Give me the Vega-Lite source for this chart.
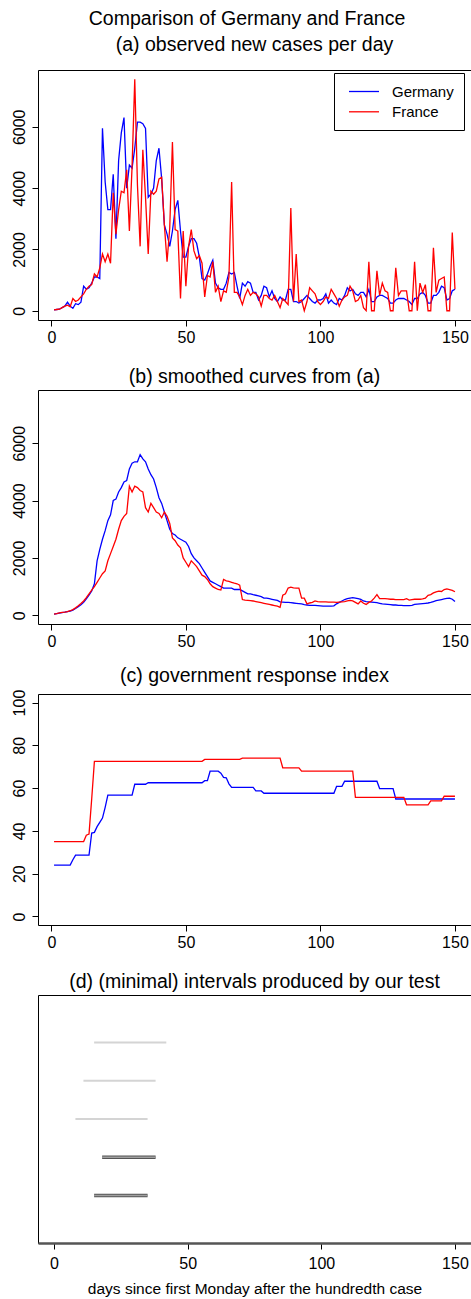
{
  "$schema": "https://vega.github.io/schema/vega-lite/v6.json",
  "description": "Comparison of Germany and France: observed and smoothed new cases, government response index and intervals.",
  "padding": {"left": 10, "top": 8, "right": 0, "bottom": 2},
  "title": {"text": "Comparison of Germany and France", "fontSize": 19.5, "fontWeight": "normal", "color": "black", "anchor": "middle", "offset": -10, "dx": 6, "baseline": "alphabetic"},
  "datasets": {
    "covid": [
      {"day":1,"country":"Germany","cases":30,"smoothed":40,"index":24},
      {"day":2,"country":"Germany","cases":40,"smoothed":60,"index":24},
      {"day":3,"country":"Germany","cases":50,"smoothed":80,"index":24},
      {"day":4,"country":"Germany","cases":100,"smoothed":95,"index":24},
      {"day":5,"country":"Germany","cases":150,"smoothed":110,"index":24},
      {"day":6,"country":"Germany","cases":280,"smoothed":130,"index":24},
      {"day":7,"country":"Germany","cases":150,"smoothed":150,"index":24},
      {"day":8,"country":"Germany","cases":80,"smoothed":180,"index":26.5},
      {"day":9,"country":"Germany","cases":230,"smoothed":240,"index":28.7},
      {"day":10,"country":"Germany","cases":200,"smoothed":300,"index":28.7},
      {"day":11,"country":"Germany","cases":280,"smoothed":370,"index":28.7},
      {"day":12,"country":"Germany","cases":800,"smoothed":450,"index":28.7},
      {"day":13,"country":"Germany","cases":700,"smoothed":570,"index":28.7},
      {"day":14,"country":"Germany","cases":750,"smoothed":700,"index":28.7},
      {"day":15,"country":"Germany","cases":900,"smoothed":850,"index":39},
      {"day":16,"country":"Germany","cases":1100,"smoothed":1100,"index":39.3},
      {"day":17,"country":"Germany","cases":1100,"smoothed":1900,"index":42},
      {"day":18,"country":"Germany","cases":1050,"smoothed":2300,"index":44},
      {"day":19,"country":"Germany","cases":5950,"smoothed":2650,"index":46},
      {"day":20,"country":"Germany","cases":4200,"smoothed":2950,"index":51},
      {"day":21,"country":"Germany","cases":3300,"smoothed":3300,"index":56.7},
      {"day":22,"country":"Germany","cases":3300,"smoothed":3500,"index":56.7},
      {"day":23,"country":"Germany","cases":4450,"smoothed":4000,"index":56.7},
      {"day":24,"country":"Germany","cases":2350,"smoothed":4050,"index":56.7},
      {"day":25,"country":"Germany","cases":4900,"smoothed":4300,"index":56.7},
      {"day":26,"country":"Germany","cases":5800,"smoothed":4450,"index":56.7},
      {"day":27,"country":"Germany","cases":6300,"smoothed":4650,"index":56.7},
      {"day":28,"country":"Germany","cases":4000,"smoothed":4700,"index":56.7},
      {"day":29,"country":"Germany","cases":4750,"smoothed":5100,"index":56.7},
      {"day":30,"country":"Germany","cases":4650,"smoothed":5300,"index":56.7},
      {"day":31,"country":"Germany","cases":5300,"smoothed":5350,"index":61.8},
      {"day":32,"country":"Germany","cases":6150,"smoothed":5350,"index":61.8},
      {"day":33,"country":"Germany","cases":6150,"smoothed":5600,"index":61.8},
      {"day":34,"country":"Germany","cases":6100,"smoothed":5450,"index":61.8},
      {"day":35,"country":"Germany","cases":5950,"smoothed":5350,"index":61.8},
      {"day":36,"country":"Germany","cases":3700,"smoothed":5100,"index":62.5},
      {"day":37,"country":"Germany","cases":3800,"smoothed":4900,"index":62.5},
      {"day":38,"country":"Germany","cases":4000,"smoothed":4750,"index":62.5},
      {"day":39,"country":"Germany","cases":4900,"smoothed":4450,"index":62.5},
      {"day":40,"country":"Germany","cases":5300,"smoothed":4100,"index":62.5},
      {"day":41,"country":"Germany","cases":4300,"smoothed":3900,"index":62.5},
      {"day":42,"country":"Germany","cases":2800,"smoothed":3600,"index":62.5},
      {"day":43,"country":"Germany","cases":2500,"smoothed":3300,"index":62.5},
      {"day":44,"country":"Germany","cases":2100,"smoothed":3000,"index":62.5},
      {"day":45,"country":"Germany","cases":2600,"smoothed":2850,"index":62.5},
      {"day":46,"country":"Germany","cases":3300,"smoothed":2800,"index":62.5},
      {"day":47,"country":"Germany","cases":3600,"smoothed":2700,"index":62.5},
      {"day":48,"country":"Germany","cases":2600,"smoothed":2650,"index":62.5},
      {"day":49,"country":"Germany","cases":1750,"smoothed":2600,"index":62.5},
      {"day":50,"country":"Germany","cases":1750,"smoothed":2550,"index":62.5},
      {"day":51,"country":"Germany","cases":2100,"smoothed":2400,"index":62.5},
      {"day":52,"country":"Germany","cases":2350,"smoothed":2150,"index":62.5},
      {"day":53,"country":"Germany","cases":2350,"smoothed":2000,"index":62.5},
      {"day":54,"country":"Germany","cases":2200,"smoothed":1900,"index":62.5},
      {"day":55,"country":"Germany","cases":1750,"smoothed":1800,"index":62.5},
      {"day":56,"country":"Germany","cases":1050,"smoothed":1650,"index":62.5},
      {"day":57,"country":"Germany","cases":1000,"smoothed":1500,"index":63.5},
      {"day":58,"country":"Germany","cases":1200,"smoothed":1350,"index":63.5},
      {"day":59,"country":"Germany","cases":1450,"smoothed":1200,"index":67.9},
      {"day":60,"country":"Germany","cases":1650,"smoothed":1150,"index":67.9},
      {"day":61,"country":"Germany","cases":900,"smoothed":1100,"index":67.9},
      {"day":62,"country":"Germany","cases":750,"smoothed":1050,"index":67.9},
      {"day":63,"country":"Germany","cases":700,"smoothed":1000,"index":67},
      {"day":64,"country":"Germany","cases":700,"smoothed":950,"index":65},
      {"day":65,"country":"Germany","cases":900,"smoothed":950,"index":64.8},
      {"day":66,"country":"Germany","cases":1250,"smoothed":950,"index":62},
      {"day":67,"country":"Germany","cases":1200,"smoothed":950,"index":60.3},
      {"day":68,"country":"Germany","cases":1250,"smoothed":900,"index":60.3},
      {"day":69,"country":"Germany","cases":800,"smoothed":900,"index":60.3},
      {"day":70,"country":"Germany","cases":400,"smoothed":900,"index":60.3},
      {"day":71,"country":"Germany","cases":900,"smoothed":850,"index":60.3},
      {"day":72,"country":"Germany","cases":800,"smoothed":800,"index":60.3},
      {"day":73,"country":"Germany","cases":950,"smoothed":750,"index":60.3},
      {"day":74,"country":"Germany","cases":900,"smoothed":750,"index":60.3},
      {"day":75,"country":"Germany","cases":600,"smoothed":720,"index":60.3},
      {"day":76,"country":"Germany","cases":600,"smoothed":700,"index":58.7},
      {"day":77,"country":"Germany","cases":350,"smoothed":680,"index":58.7},
      {"day":78,"country":"Germany","cases":500,"smoothed":650,"index":58.7},
      {"day":79,"country":"Germany","cases":800,"smoothed":600,"index":57.6},
      {"day":80,"country":"Germany","cases":750,"smoothed":600,"index":57.6},
      {"day":81,"country":"Germany","cases":450,"smoothed":580,"index":57.6},
      {"day":82,"country":"Germany","cases":650,"smoothed":560,"index":57.6},
      {"day":83,"country":"Germany","cases":400,"smoothed":540,"index":57.6},
      {"day":84,"country":"Germany","cases":300,"smoothed":520,"index":57.6},
      {"day":85,"country":"Germany","cases":450,"smoothed":470,"index":57.6},
      {"day":86,"country":"Germany","cases":350,"smoothed":460,"index":57.6},
      {"day":87,"country":"Germany","cases":350,"smoothed":450,"index":57.6},
      {"day":88,"country":"Germany","cases":700,"smoothed":450,"index":57.6},
      {"day":89,"country":"Germany","cases":700,"smoothed":440,"index":57.6},
      {"day":90,"country":"Germany","cases":300,"smoothed":430,"index":57.6},
      {"day":91,"country":"Germany","cases":300,"smoothed":420,"index":57.6},
      {"day":92,"country":"Germany","cases":250,"smoothed":410,"index":57.6},
      {"day":93,"country":"Germany","cases":300,"smoothed":400,"index":57.6},
      {"day":94,"country":"Germany","cases":400,"smoothed":370,"index":57.6},
      {"day":95,"country":"Germany","cases":500,"smoothed":360,"index":57.6},
      {"day":96,"country":"Germany","cases":400,"smoothed":350,"index":57.6},
      {"day":97,"country":"Germany","cases":300,"smoothed":350,"index":57.6},
      {"day":98,"country":"Germany","cases":250,"smoothed":350,"index":57.6},
      {"day":99,"country":"Germany","cases":350,"smoothed":340,"index":57.6},
      {"day":100,"country":"Germany","cases":350,"smoothed":330,"index":57.6},
      {"day":101,"country":"Germany","cases":400,"smoothed":320,"index":57.6},
      {"day":102,"country":"Germany","cases":550,"smoothed":320,"index":57.6},
      {"day":103,"country":"Germany","cases":250,"smoothed":320,"index":57.6},
      {"day":104,"country":"Germany","cases":350,"smoothed":320,"index":57.6},
      {"day":105,"country":"Germany","cases":250,"smoothed":330,"index":57.6},
      {"day":106,"country":"Germany","cases":200,"smoothed":400,"index":60.8},
      {"day":107,"country":"Germany","cases":400,"smoothed":450,"index":60.8},
      {"day":108,"country":"Germany","cases":350,"smoothed":500,"index":60.8},
      {"day":109,"country":"Germany","cases":500,"smoothed":550,"index":63.2},
      {"day":110,"country":"Germany","cases":750,"smoothed":580,"index":63.2},
      {"day":111,"country":"Germany","cases":650,"smoothed":600,"index":63.2},
      {"day":112,"country":"Germany","cases":700,"smoothed":620,"index":63.2},
      {"day":113,"country":"Germany","cases":550,"smoothed":600,"index":63.2},
      {"day":114,"country":"Germany","cases":500,"smoothed":580,"index":63.2},
      {"day":115,"country":"Germany","cases":600,"smoothed":560,"index":63.2},
      {"day":116,"country":"Germany","cases":600,"smoothed":500,"index":63.2},
      {"day":117,"country":"Germany","cases":450,"smoothed":480,"index":63.2},
      {"day":118,"country":"Germany","cases":700,"smoothed":470,"index":63.2},
      {"day":119,"country":"Germany","cases":300,"smoothed":460,"index":63.2},
      {"day":120,"country":"Germany","cases":300,"smoothed":450,"index":63.2},
      {"day":121,"country":"Germany","cases":450,"smoothed":440,"index":63.2},
      {"day":122,"country":"Germany","cases":500,"smoothed":420,"index":59.8},
      {"day":123,"country":"Germany","cases":500,"smoothed":400,"index":59.8},
      {"day":124,"country":"Germany","cases":450,"smoothed":390,"index":59.8},
      {"day":125,"country":"Germany","cases":400,"smoothed":380,"index":59.8},
      {"day":126,"country":"Germany","cases":250,"smoothed":370,"index":59.8},
      {"day":127,"country":"Germany","cases":250,"smoothed":360,"index":59.8},
      {"day":128,"country":"Germany","cases":350,"smoothed":360,"index":54.9},
      {"day":129,"country":"Germany","cases":400,"smoothed":350,"index":54.9},
      {"day":130,"country":"Germany","cases":400,"smoothed":350,"index":54.9},
      {"day":131,"country":"Germany","cases":400,"smoothed":340,"index":54.9},
      {"day":132,"country":"Germany","cases":350,"smoothed":340,"index":54.9},
      {"day":133,"country":"Germany","cases":300,"smoothed":340,"index":54.9},
      {"day":134,"country":"Germany","cases":200,"smoothed":350,"index":54.9},
      {"day":135,"country":"Germany","cases":400,"smoothed":380,"index":54.9},
      {"day":136,"country":"Germany","cases":400,"smoothed":390,"index":54.9},
      {"day":137,"country":"Germany","cases":550,"smoothed":400,"index":54.9},
      {"day":138,"country":"Germany","cases":600,"smoothed":410,"index":54.9},
      {"day":139,"country":"Germany","cases":500,"smoothed":420,"index":54.9},
      {"day":140,"country":"Germany","cases":250,"smoothed":430,"index":54.9},
      {"day":141,"country":"Germany","cases":250,"smoothed":450,"index":54.9},
      {"day":142,"country":"Germany","cases":500,"smoothed":480,"index":54.9},
      {"day":143,"country":"Germany","cases":500,"smoothed":510,"index":54.9},
      {"day":144,"country":"Germany","cases":600,"smoothed":530,"index":54.9},
      {"day":145,"country":"Germany","cases":800,"smoothed":550,"index":54.9},
      {"day":146,"country":"Germany","cases":750,"smoothed":570,"index":54.9},
      {"day":147,"country":"Germany","cases":350,"smoothed":590,"index":54.9},
      {"day":148,"country":"Germany","cases":400,"smoothed":600,"index":54.9},
      {"day":149,"country":"Germany","cases":650,"smoothed":560,"index":54.9},
      {"day":150,"country":"Germany","cases":700,"smoothed":480,"index":54.9},
      {"day":1,"country":"France","cases":30,"smoothed":40,"index":35},
      {"day":2,"country":"France","cases":40,"smoothed":60,"index":35},
      {"day":3,"country":"France","cases":50,"smoothed":85,"index":35},
      {"day":4,"country":"France","cases":100,"smoothed":100,"index":35},
      {"day":5,"country":"France","cases":150,"smoothed":110,"index":35},
      {"day":6,"country":"France","cases":180,"smoothed":130,"index":35},
      {"day":7,"country":"France","cases":130,"smoothed":160,"index":35},
      {"day":8,"country":"France","cases":400,"smoothed":200,"index":35},
      {"day":9,"country":"France","cases":300,"smoothed":260,"index":35},
      {"day":10,"country":"France","cases":350,"smoothed":330,"index":35},
      {"day":11,"country":"France","cases":450,"smoothed":410,"index":35},
      {"day":12,"country":"France","cases":550,"smoothed":500,"index":35},
      {"day":13,"country":"France","cases":700,"smoothed":620,"index":38},
      {"day":14,"country":"France","cases":800,"smoothed":750,"index":38.5},
      {"day":15,"country":"France","cases":850,"smoothed":880,"index":55},
      {"day":16,"country":"France","cases":1200,"smoothed":1000,"index":72.5},
      {"day":17,"country":"France","cases":1100,"smoothed":1150,"index":72.5},
      {"day":18,"country":"France","cases":1400,"smoothed":1300,"index":72.5},
      {"day":19,"country":"France","cases":1850,"smoothed":1450,"index":72.5},
      {"day":20,"country":"France","cases":1600,"smoothed":1550,"index":72.5},
      {"day":21,"country":"France","cases":1850,"smoothed":1900,"index":72.5},
      {"day":22,"country":"France","cases":1550,"smoothed":2150,"index":72.5},
      {"day":23,"country":"France","cases":3850,"smoothed":2400,"index":72.5},
      {"day":24,"country":"France","cases":2500,"smoothed":2650,"index":72.5},
      {"day":25,"country":"France","cases":3300,"smoothed":3000,"index":72.5},
      {"day":26,"country":"France","cases":3900,"smoothed":3300,"index":72.5},
      {"day":27,"country":"France","cases":3850,"smoothed":3450,"index":72.5},
      {"day":28,"country":"France","cases":4600,"smoothed":3550,"index":72.5},
      {"day":29,"country":"France","cases":2600,"smoothed":4500,"index":72.5},
      {"day":30,"country":"France","cases":4700,"smoothed":4300,"index":72.5},
      {"day":31,"country":"France","cases":7550,"smoothed":4500,"index":72.5},
      {"day":32,"country":"France","cases":4100,"smoothed":4450,"index":72.5},
      {"day":33,"country":"France","cases":2100,"smoothed":4350,"index":72.5},
      {"day":34,"country":"France","cases":5250,"smoothed":4300,"index":72.5},
      {"day":35,"country":"France","cases":3700,"smoothed":3750,"index":72.5},
      {"day":36,"country":"France","cases":1850,"smoothed":3600,"index":72.5},
      {"day":37,"country":"France","cases":3900,"smoothed":3900,"index":72.5},
      {"day":38,"country":"France","cases":3800,"smoothed":3750,"index":72.5},
      {"day":39,"country":"France","cases":3900,"smoothed":3600,"index":72.5},
      {"day":40,"country":"France","cases":4300,"smoothed":3550,"index":72.5},
      {"day":41,"country":"France","cases":4350,"smoothed":3400,"index":72.5},
      {"day":42,"country":"France","cases":2800,"smoothed":3600,"index":72.5},
      {"day":43,"country":"France","cases":1600,"smoothed":3450,"index":72.5},
      {"day":44,"country":"France","cases":2700,"smoothed":3200,"index":72.5},
      {"day":45,"country":"France","cases":5500,"smoothed":2700,"index":72.5},
      {"day":46,"country":"France","cases":2650,"smoothed":2600,"index":72.5},
      {"day":47,"country":"France","cases":2600,"smoothed":2450,"index":72.5},
      {"day":48,"country":"France","cases":400,"smoothed":2350,"index":72.5},
      {"day":49,"country":"France","cases":2600,"smoothed":2000,"index":72.5},
      {"day":50,"country":"France","cases":800,"smoothed":1850,"index":72.5},
      {"day":51,"country":"France","cases":2100,"smoothed":1700,"index":72.5},
      {"day":52,"country":"France","cases":2650,"smoothed":1900,"index":72.5},
      {"day":53,"country":"France","cases":1950,"smoothed":1800,"index":72.5},
      {"day":54,"country":"France","cases":1700,"smoothed":1700,"index":72.5},
      {"day":55,"country":"France","cases":1800,"smoothed":1550,"index":72.5},
      {"day":56,"country":"France","cases":1550,"smoothed":1400,"index":72.5},
      {"day":57,"country":"France","cases":450,"smoothed":1350,"index":73.4},
      {"day":58,"country":"France","cases":1150,"smoothed":1250,"index":73.4},
      {"day":59,"country":"France","cases":1100,"smoothed":1100,"index":73.4},
      {"day":60,"country":"France","cases":1600,"smoothed":1000,"index":73.4},
      {"day":61,"country":"France","cases":600,"smoothed":950,"index":73.4},
      {"day":62,"country":"France","cases":800,"smoothed":900,"index":73.4},
      {"day":63,"country":"France","cases":300,"smoothed":880,"index":73.4},
      {"day":64,"country":"France","cases":650,"smoothed":1250,"index":73.4},
      {"day":65,"country":"France","cases":600,"smoothed":1200,"index":73.4},
      {"day":66,"country":"France","cases":1100,"smoothed":1180,"index":73.4},
      {"day":67,"country":"France","cases":4200,"smoothed":1150,"index":73.4},
      {"day":68,"country":"France","cases":600,"smoothed":1120,"index":73.4},
      {"day":69,"country":"France","cases":600,"smoothed":1100,"index":73.4},
      {"day":70,"country":"France","cases":450,"smoothed":1050,"index":73.4},
      {"day":71,"country":"France","cases":200,"smoothed":550,"index":74},
      {"day":72,"country":"France","cases":500,"smoothed":530,"index":74},
      {"day":73,"country":"France","cases":700,"smoothed":520,"index":74},
      {"day":74,"country":"France","cases":500,"smoothed":510,"index":74},
      {"day":75,"country":"France","cases":600,"smoothed":500,"index":74},
      {"day":76,"country":"France","cases":550,"smoothed":480,"index":74},
      {"day":77,"country":"France","cases":450,"smoothed":460,"index":74},
      {"day":78,"country":"France","cases":150,"smoothed":440,"index":74},
      {"day":79,"country":"France","cases":500,"smoothed":420,"index":74},
      {"day":80,"country":"France","cases":500,"smoothed":400,"index":74},
      {"day":81,"country":"France","cases":400,"smoothed":380,"index":74},
      {"day":82,"country":"France","cases":350,"smoothed":360,"index":74},
      {"day":83,"country":"France","cases":500,"smoothed":340,"index":74},
      {"day":84,"country":"France","cases":300,"smoothed":320,"index":74},
      {"day":85,"country":"France","cases":100,"smoothed":280,"index":74},
      {"day":86,"country":"France","cases":400,"smoothed":700,"index":69.5},
      {"day":87,"country":"France","cases":300,"smoothed":750,"index":69.5},
      {"day":88,"country":"France","cases":200,"smoothed":950,"index":69.5},
      {"day":89,"country":"France","cases":3350,"smoothed":980,"index":69.5},
      {"day":90,"country":"France","cases":300,"smoothed":960,"index":69.5},
      {"day":91,"country":"France","cases":1850,"smoothed":950,"index":69.5},
      {"day":92,"country":"France","cases":300,"smoothed":950,"index":69.5},
      {"day":93,"country":"France","cases":350,"smoothed":600,"index":67.9},
      {"day":94,"country":"France","cases":0,"smoothed":600,"index":67.9},
      {"day":95,"country":"France","cases":300,"smoothed":400,"index":67.9},
      {"day":96,"country":"France","cases":750,"smoothed":430,"index":67.9},
      {"day":97,"country":"France","cases":650,"smoothed":450,"index":67.9},
      {"day":98,"country":"France","cases":550,"smoothed":500,"index":67.9},
      {"day":99,"country":"France","cases":300,"smoothed":480,"index":67.9},
      {"day":100,"country":"France","cases":200,"smoothed":470,"index":67.9},
      {"day":101,"country":"France","cases":300,"smoothed":470,"index":67.9},
      {"day":102,"country":"France","cases":450,"smoothed":470,"index":67.9},
      {"day":103,"country":"France","cases":400,"smoothed":460,"index":67.9},
      {"day":104,"country":"France","cases":700,"smoothed":460,"index":67.9},
      {"day":105,"country":"France","cases":550,"smoothed":460,"index":67.9},
      {"day":106,"country":"France","cases":400,"smoothed":450,"index":67.9},
      {"day":107,"country":"France","cases":150,"smoothed":460,"index":67.9},
      {"day":108,"country":"France","cases":350,"smoothed":470,"index":67.9},
      {"day":109,"country":"France","cases":450,"smoothed":480,"index":67.9},
      {"day":110,"country":"France","cases":500,"smoothed":500,"index":67.9},
      {"day":111,"country":"France","cases":800,"smoothed":520,"index":67.9},
      {"day":112,"country":"France","cases":650,"smoothed":500,"index":67.9},
      {"day":113,"country":"France","cases":300,"smoothed":450,"index":55.7},
      {"day":114,"country":"France","cases":350,"smoothed":400,"index":55.7},
      {"day":115,"country":"France","cases":500,"smoothed":500,"index":55.7},
      {"day":116,"country":"France","cases":100,"smoothed":420,"index":55.7},
      {"day":117,"country":"France","cases":0,"smoothed":380,"index":55.7},
      {"day":118,"country":"France","cases":1600,"smoothed":450,"index":55.7},
      {"day":119,"country":"France","cases":0,"smoothed":500,"index":55.7},
      {"day":120,"country":"France","cases":0,"smoothed":600,"index":55.7},
      {"day":121,"country":"France","cases":1300,"smoothed":720,"index":55.7},
      {"day":122,"country":"France","cases":500,"smoothed":580,"index":55.7},
      {"day":123,"country":"France","cases":900,"smoothed":580,"index":55.7},
      {"day":124,"country":"France","cases":650,"smoothed":580,"index":55.7},
      {"day":125,"country":"France","cases":600,"smoothed":570,"index":55.7},
      {"day":126,"country":"France","cases":0,"smoothed":560,"index":55.7},
      {"day":127,"country":"France","cases":0,"smoothed":560,"index":55.7},
      {"day":128,"country":"France","cases":1400,"smoothed":550,"index":55.7},
      {"day":129,"country":"France","cases":500,"smoothed":550,"index":55.7},
      {"day":130,"country":"France","cases":650,"smoothed":550,"index":55.7},
      {"day":131,"country":"France","cases":650,"smoothed":550,"index":55.7},
      {"day":132,"country":"France","cases":650,"smoothed":580,"index":52.2},
      {"day":133,"country":"France","cases":0,"smoothed":530,"index":52.2},
      {"day":134,"country":"France","cases":0,"smoothed":550,"index":52.2},
      {"day":135,"country":"France","cases":1600,"smoothed":560,"index":52.2},
      {"day":136,"country":"France","cases":0,"smoothed":560,"index":52.2},
      {"day":137,"country":"France","cases":900,"smoothed":560,"index":52.2},
      {"day":138,"country":"France","cases":600,"smoothed":570,"index":52.2},
      {"day":139,"country":"France","cases":850,"smoothed":600,"index":52.2},
      {"day":140,"country":"France","cases":0,"smoothed":700,"index":52.2},
      {"day":141,"country":"France","cases":0,"smoothed":720,"index":54},
      {"day":142,"country":"France","cases":2050,"smoothed":780,"index":54},
      {"day":143,"country":"France","cases":600,"smoothed":820,"index":54},
      {"day":144,"country":"France","cases":1000,"smoothed":840,"index":54},
      {"day":145,"country":"France","cases":1050,"smoothed":830,"index":54},
      {"day":146,"country":"France","cases":1100,"smoothed":900,"index":56.2},
      {"day":147,"country":"France","cases":0,"smoothed":920,"index":56.2},
      {"day":148,"country":"France","cases":0,"smoothed":900,"index":56.2},
      {"day":149,"country":"France","cases":2550,"smoothed":870,"index":56.2},
      {"day":150,"country":"France","cases":700,"smoothed":820,"index":56.2}
    ],
    "intervals": [
      {"row":5,"start":15,"end":42,"kind":"light"},
      {"row":4,"start":11,"end":38,"kind":"light"},
      {"row":3,"start":8,"end":35,"kind":"light"},
      {"row":2,"start":18,"end":38,"kind":"dark"},
      {"row":1,"start":15,"end":35,"kind":"dark"}
    ]
  },
  "bounds": "flush",
  "spacing": 70,
  "resolve": {"scale": {"x": "independent", "y": "independent", "color": "independent", "strokeWidth": "independent"}, "legend": {"color": "independent"}},
  "vconcat": [
    {
      "width": 433,
      "height": 250,
      "title": {"text": "(a) observed new cases per day", "offset": 15},
      "data": {"name": "covid"},
      "encoding": {
        "x": {"field": "day", "type": "quantitative", "scale": {"domain": [-4.96, 155.96], "nice": false, "zero": false}, "axis": {"values": [0, 50, 100, 150], "title": null}},
        "y": {"field": "cases", "type": "quantitative", "scale": {"domain": [-302, 7852], "nice": false, "zero": false}, "axis": {"values": [0, 2000, 4000, 6000], "format": "d", "title": null, "labelAngle": 270, "labelAlign": "center", "labelBaseline": "alphabetic", "labelPadding": 8}},
        "color": {"field": "country", "type": "nominal", "scale": {"domain": ["Germany", "France"], "range": ["#0000ff", "#ff0000"]},
          "legend": {"title": null, "orient": "none", "legendX": 296, "legendY": 3, "strokeColor": "black", "fillColor": "white", "padding": 10, "symbolType": "M-2,0L2,0", "symbolSize": 225, "symbolStrokeWidth": 1.3, "symbolOffset": 11.5, "labelOffset": 19.5, "labelFontSize": 15, "labelColor": "black", "rowPadding": 3.3}}
      },
      "layer": [
        {"transform": [{"filter": "datum.country == 'Germany'"}], "mark": {"type": "line", "strokeWidth": 1.3}},
        {"transform": [{"filter": "datum.country == 'France'"}], "mark": {"type": "line", "strokeWidth": 1.3}}
      ]
    },
    {
      "width": 433,
      "height": 234,
      "title": {"text": "(b) smoothed curves from (a)", "offset": 2.5},
      "data": {"name": "covid"},
      "encoding": {
        "x": {"field": "day", "type": "quantitative", "scale": {"domain": [-4.96, 155.96], "nice": false, "zero": false}, "axis": {"values": [0, 50, 100, 150], "title": null}},
        "y": {"field": "smoothed", "type": "quantitative", "scale": {"domain": [-302, 7852], "nice": false, "zero": false}, "axis": {"values": [0, 2000, 4000, 6000], "format": "d", "title": null, "labelAngle": 270, "labelAlign": "center", "labelBaseline": "alphabetic", "labelPadding": 8}},
        "color": {"field": "country", "type": "nominal", "scale": {"domain": ["Germany", "France"], "range": ["#0000ff", "#ff0000"]}, "legend": null}
      },
      "layer": [
        {"transform": [{"filter": "datum.country == 'Germany'"}], "mark": {"type": "line", "strokeWidth": 1.3}},
        {"transform": [{"filter": "datum.country == 'France'"}], "mark": {"type": "line", "strokeWidth": 1.3}}
      ]
    },
    {
      "width": 433,
      "height": 231,
      "title": {"text": "(c) government response index", "offset": 2.5},
      "data": {"name": "covid"},
      "encoding": {
        "x": {"field": "day", "type": "quantitative", "scale": {"domain": [-4.96, 155.96], "nice": false, "zero": false}, "axis": {"values": [0, 50, 100, 150], "title": null}},
        "y": {"field": "index", "type": "quantitative", "scale": {"domain": [-4, 104], "nice": false, "zero": false}, "axis": {"values": [0, 20, 40, 60, 80, 100], "format": "d", "title": null, "labelAngle": 270, "labelAlign": "center", "labelBaseline": "alphabetic", "labelPadding": 8}},
        "color": {"field": "country", "type": "nominal", "scale": {"domain": ["Germany", "France"], "range": ["#0000ff", "#ff0000"]}, "legend": null}
      },
      "layer": [
        {"transform": [{"filter": "datum.country == 'Germany'"}], "mark": {"type": "line", "strokeWidth": 1.3}},
        {"transform": [{"filter": "datum.country == 'France'"}], "mark": {"type": "line", "strokeWidth": 1.3}}
      ]
    },
    {
      "width": 433,
      "height": 248,
      "title": {"text": "(d) (minimal) intervals produced by our test", "offset": 2.5},
      "data": {"name": "intervals"},
      "encoding": {
        "x": {"field": "start", "type": "quantitative", "scale": {"domain": [-6, 156], "nice": false, "zero": false},
          "axis": {"values": [0, 50, 100, 150], "title": "days since first Monday after the hundredth case", "titleFontSize": 15.5, "titleFontWeight": "normal", "titleColor": "black", "titlePadding": 10, "labelPadding": 6, "domain": true, "domainColor": "#555555", "domainWidth": 2.5}},
        "x2": {"field": "end"},
        "y": {"field": "row", "type": "quantitative", "scale": {"domain": [-0.24, 6.24], "nice": false, "zero": false}, "axis": null}
      },
      "layer": [
        {
          "mark": {"type": "rule"},
          "encoding": {
            "color": {"field": "kind", "type": "nominal", "scale": {"domain": ["light", "dark"], "range": ["#d4d4d4", "#555555"]}, "legend": null},
            "strokeWidth": {"field": "kind", "type": "nominal", "scale": {"domain": ["light", "dark"], "range": [2, 3.5]}, "legend": null}
          }
        },
        {
          "transform": [{"filter": "datum.kind == 'dark'"}],
          "mark": {"type": "rule", "color": "#a0a0a0", "strokeWidth": 1.4},
          "encoding": {}
        }
      ]
    }
  ],
  "config": {
    "font": "Liberation Sans",
    "view": {"stroke": "black", "strokeWidth": 1},
    "axis": {"grid": false, "domain": false, "ticks": true, "tickSize": 6, "tickColor": "black", "labelColor": "black", "labelFontSize": 16, "labelPadding": 3, "labelAngle": 0},
    "title": {"fontSize": 19.5, "fontWeight": "normal", "color": "black", "anchor": "middle", "baseline": "alphabetic"}
  }
}
